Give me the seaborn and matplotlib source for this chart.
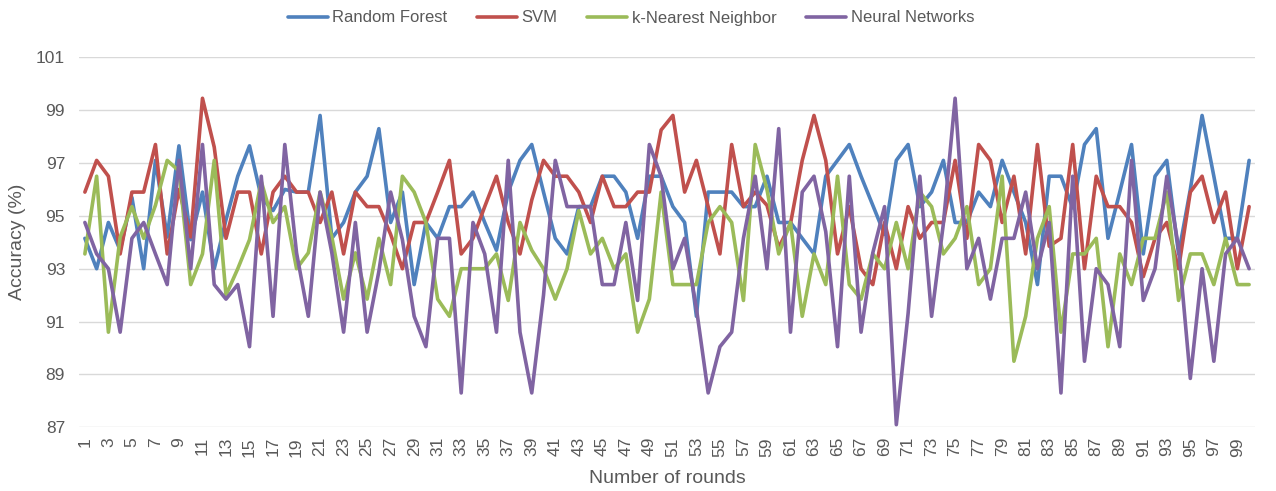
import matplotlib
matplotlib.use("Agg")
import matplotlib.pyplot as plt
import seaborn as sns
import pandas as pd
import numpy as np

rounds = list(range(1, 101))
models = ["Random Forest", "SVM", "k-Nearest Neighbor", "Neural Networks"]
colors = ["#4F81BD", "#C0504D", "#9BBB59", "#8064A2"]

random_forest = [
    94.15, 93.0, 94.75, 93.7, 95.7, 93.0, 97.1, 94.2, 97.65, 94.1,
    95.9, 93.0, 94.85, 96.5, 97.65, 95.7, 95.2, 96.0, 95.9, 95.9,
    98.8, 94.15, 94.75, 95.9, 96.5, 98.3, 94.75, 95.9, 92.4, 94.75,
    94.15, 95.35, 95.35, 95.9, 94.75, 93.7, 95.9, 97.1, 97.7, 95.9,
    94.15, 93.56, 95.35, 95.35, 96.5, 96.5, 95.9, 94.15, 96.5, 96.5,
    95.35, 94.75, 91.2, 95.9, 95.9, 95.9, 95.35, 95.35, 96.5, 94.75,
    94.75, 94.15, 93.56, 96.5, 97.1, 97.7, 96.5, 95.4, 94.3, 97.1,
    97.7, 95.35, 95.9, 97.1, 94.75, 94.75, 95.9, 95.35, 97.1, 95.9,
    94.75, 92.4, 96.5, 96.5, 95.3, 97.7, 98.3, 94.15, 95.9, 97.7,
    93.56, 96.5, 97.1, 93.56, 96.0, 98.8, 96.5, 94.15, 94.15, 97.1,
]
svm = [
    95.9, 97.1, 96.5, 93.56, 95.9, 95.9, 97.7, 93.56, 96.0, 94.2,
    99.45, 97.6, 94.15, 95.9, 95.9, 93.56, 95.9, 96.5, 95.9, 95.9,
    94.75, 95.9, 93.56, 95.9, 95.35, 95.35, 94.3, 93.0, 94.75, 94.75,
    95.9, 97.1, 93.56, 94.15, 95.35, 96.5, 94.75, 93.56, 95.6, 97.1,
    96.5, 96.5, 95.9, 94.75, 96.5, 95.35, 95.35, 95.9, 95.9, 98.25,
    98.8, 95.9, 97.1, 95.35, 93.56, 97.7, 95.35, 95.9, 95.4, 93.8,
    94.7, 97.1, 98.8, 97.1, 93.56, 95.35, 93.0, 92.4, 94.75, 93.0,
    95.35, 94.15, 94.75, 94.75, 97.1, 94.15, 97.7, 97.1, 94.75, 96.5,
    93.56, 97.7, 93.85, 94.15, 97.7, 93.0, 96.5, 95.35, 95.35, 94.75,
    92.7, 94.15, 94.75, 93.0, 95.9, 96.5, 94.75, 95.9, 93.0, 95.35,
]
knn = [
    93.56, 96.5, 90.6, 94.2, 95.35, 94.15, 95.4, 97.1, 96.7, 92.4,
    93.56, 97.1, 92.0, 93.0, 94.1, 96.3, 94.75, 95.35, 93.0, 93.6,
    95.9, 94.2, 91.85, 93.6, 91.85, 94.15, 92.4, 96.5, 95.9, 94.75,
    91.85, 91.2, 93.0, 93.0, 93.0, 93.56, 91.8, 94.75, 93.7, 93.0,
    91.85, 93.0, 95.2, 93.56, 94.15, 93.0, 93.56, 90.6, 91.85, 95.9,
    92.4, 92.4, 92.4, 94.75, 95.35, 94.75, 91.8, 97.7, 96.0, 93.56,
    94.75, 91.2, 93.56, 92.4, 96.5, 92.4, 91.85, 93.56, 93.0, 94.75,
    93.0, 95.9, 95.35, 93.56, 94.15, 95.35, 92.4, 93.0, 96.5, 89.5,
    91.2, 94.15, 95.35, 90.6, 93.56, 93.56, 94.15, 90.05, 93.56, 92.4,
    94.15, 94.15, 95.9, 91.8, 93.56, 93.56, 92.4, 94.15, 92.4, 92.4,
]
neural_net = [
    94.75, 93.56, 93.0, 90.6, 94.15, 94.75, 93.56, 92.4, 97.1, 93.0,
    97.7, 92.4, 91.85, 92.4, 90.05, 96.5, 91.2, 97.7, 93.6, 91.2,
    95.9, 93.6, 90.6, 94.75, 90.6, 92.9, 95.9, 94.1, 91.2, 90.05,
    94.15, 94.15, 88.3, 94.75, 93.56, 90.6, 97.1, 90.6, 88.3, 92.0,
    97.1, 95.35, 95.35, 95.35, 92.4, 92.4, 94.75, 91.8, 97.7, 96.5,
    93.0, 94.15, 91.5, 88.3, 90.05, 90.6, 94.15, 96.5, 93.0, 98.3,
    90.6, 95.9, 96.5, 94.4, 90.05, 96.5, 90.6, 93.6, 95.35, 87.1,
    91.3, 96.5, 91.2, 94.7, 99.45, 93.0, 94.15, 91.85, 94.15, 94.15,
    95.9, 93.0, 94.75, 88.3, 96.5, 89.5, 93.0, 92.4, 90.05, 97.1,
    91.8, 93.0, 96.5, 93.8, 88.85, 93.0, 89.5, 93.56, 94.15, 93.0,
]

df = pd.DataFrame({
    "round": rounds * 4,
    "model": sum([[m] * len(rounds) for m in models], []),
    "accuracy": random_forest + svm + knn + neural_net,
})

sns.set_style("white")
plt.rcParams["font.family"] = ["Liberation Sans", "DejaVu Sans"]
text_color = "#595959"

fig = plt.figure(figsize=(12.76, 4.91), dpi=100)
ax = fig.add_axes([79 / 1276, 1 - 427.3 / 491, 1176 / 1276, 370 / 491])

sns.lineplot(data=df, x="round", y="accuracy", hue="model", hue_order=models,
             palette=colors, linewidth=2.6, ax=ax, legend=True)

ax.set_xlim(0.5, 100.5)
ax.set_ylim(87, 101)
ax.set_yticks(np.arange(87, 102, 2))
ax.set_xticks(rounds[::2])
ax.set_xticklabels([str(r) for r in rounds[::2]], rotation=90)
ax.tick_params(axis="both", length=0, labelsize=12.5, colors=text_color)
ax.tick_params(axis="x", pad=7)
ax.tick_params(axis="y", pad=10)
ax.grid(axis="y", color="#D9D9D9", linewidth=1)
ax.set_axisbelow(True)
for s in ax.spines.values():
    s.set_visible(False)

ax.set_xlabel("Number of rounds", fontsize=14, color=text_color, labelpad=10)
ax.set_ylabel("Accuracy (%)", fontsize=14, color=text_color, labelpad=7)

handles, labels = ax.get_legend_handles_labels()
ax.legend(handles, labels, loc="center", bbox_to_anchor=(631 / 1276, 1 - 18 / 491),
          bbox_transform=fig.transFigure, ncol=4, frameon=False,
          fontsize=12, labelcolor=text_color, handlelength=2.4,
          columnspacing=1.8, handletextpad=0.25)

fig.savefig("out.png", dpi=100)
